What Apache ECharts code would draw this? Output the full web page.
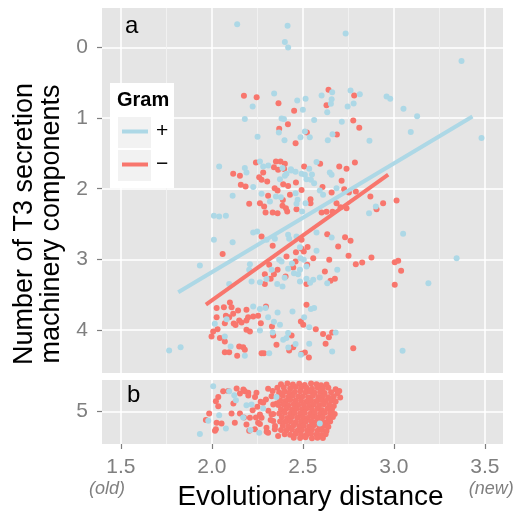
<!DOCTYPE html>
<html><head><meta charset="utf-8">
<script src="https://cdn.jsdelivr.net/npm/echarts@6/dist/echarts.min.js"></script>
<style>html,body{margin:0;padding:0;background:#fff}#c{width:521px;height:513px}</style>
</head><body><div id="c"></div>
<script>
// ---- tick labels ----
const xTicks = [1.5, 2.0, 2.5, 3.0, 3.5];
const xMinorTicks = [1.75, 2.25, 2.75, 3.25];
const xEndLabels = {'1.5': '(old)', '3.5': '(new)'};
const yTicksA = [0, 1, 2, 3, 4];
const yTicksB = [5];
const legendTitle = 'Gram';
const groupNames = ['+', '−'];

// ---- panel a: Gram + (light blue) ----
const gramPosA = [
[2.139,-0.33],[2.416,-0.31],[2.735,-0.2],[2.401,-0.08],[2.419,0.0],[3.372,0.19],
[2.342,0.651],[2.224,0.835],[2.469,0.75],[2.515,0.727],[2.603,0.68],[2.661,0.632],[2.658,0.731],[2.654,0.797],[2.634,0.915],[2.762,0.609],[2.813,0.66],[2.779,0.793],[2.746,0.835],[2.96,0.694],[2.98,0.727],[2.5,0.882],[3.053,0.868],[3.128,0.972],[2.181,1.014],[2.383,1.006],[2.396,1.014],[2.368,1.204],[2.562,1.028],[2.714,1.052],[3.093,1.198],[3.482,1.283],[2.251,1.265],[2.399,1.312],[2.511,1.19],[2.487,1.269],[2.538,1.269],[2.637,1.312],[2.663,1.227],[2.866,1.322],
[2.04,1.685],[2.181,1.708],[2.19,1.77],[2.227,1.977],[2.264,1.615],[2.282,1.685],[2.388,1.708],[2.41,1.789],[2.437,1.742],[2.401,1.817],[2.374,1.864],[2.493,1.789],[2.511,1.803],[2.52,1.864],[2.544,1.874],[2.562,1.921],[2.575,1.623],[2.648,1.77],[2.658,1.803],[2.685,1.992],[2.593,2.025],[2.611,2.086],[2.114,2.1],[2.273,2.072],[2.319,2.181],[2.352,2.11],[2.379,2.119],[2.46,2.063],[2.471,2.157],[2.515,2.204],[2.465,2.214],[2.496,2.323],[2.011,2.384],[2.04,2.394],[2.077,2.384],[2.864,2.346],[2.901,2.252],[2.434,1.723],[2.535,1.718],[2.31,1.67],[2.46,1.76],[2.55,1.8],
[2.227,2.62],[2.249,2.606],[2.575,2.62],[3.051,2.639],[2.011,2.724],[2.114,2.757],[2.301,2.724],[2.346,2.71],[2.419,2.653],[2.425,2.71],[2.465,2.677],[2.658,2.691],[1.934,3.088],[2.575,2.88],[2.487,2.983],[2.505,3.007],[2.37,3.007],[2.383,3.031],[3.345,2.983],[2.209,3.068],[2.205,3.149],[2.328,3.149],[2.419,3.135],[2.451,3.196],[2.474,3.21],[2.218,3.314],[2.264,3.323],[2.359,3.351],[2.388,3.385],[2.484,3.314],[2.52,3.276],[2.557,3.29],[2.593,3.258],[2.689,3.149],[2.634,3.337],[3.19,3.337],[2.095,3.351],[2.484,2.83],[2.484,3.149],[2.44,3.06],[2.52,3.1],[2.30,3.28],[2.54,3.33],[2.40,3.26],
[2.227,3.668],[2.264,3.705],[2.295,3.69],[2.016,3.914],[2.081,3.847],[2.309,3.819],[2.341,3.885],[2.374,3.928],[2.361,3.753],[2.443,3.739],[2.544,3.705],[2.562,3.691],[2.507,3.819],[2.071,4.093],[2.264,4.008],[2.334,4.037],[2.419,4.045],[2.392,4.14],[2.41,4.116],[2.535,3.961],[2.68,4.037],[2.535,4.197],[2.661,4.306],[3.048,4.296],[1.765,4.292],[1.828,4.244],[2.103,4.235],[2.181,4.367],[2.315,4.329],[2.489,4.353],[2.46,4.2],[2.42,4.25]
];

// ---- panel a: Gram − (salmon) ----
const gramNegA = [
[2.176,0.684],[2.246,0.703],[2.366,0.788],[2.641,0.599],[2.63,0.816],[2.782,0.68],[2.452,0.897],[2.418,1.085],[2.37,1.152],[2.777,1.034],[2.81,1.137],[2.46,1.354],[2.522,1.204],[2.687,1.232],
[2.117,1.789],[2.154,1.817],[2.159,1.945],[2.185,1.969],[2.242,1.629],[2.282,1.77],[2.26,1.836],[2.273,1.874],[2.304,1.898],[2.352,1.615],[2.377,1.615],[2.401,1.647],[2.341,1.694],[2.364,1.732],[2.397,1.722],[2.392,1.935],[2.419,1.96],[2.462,1.912],[2.345,1.992],[2.361,2.025],[2.507,1.685],[2.595,1.647],[2.7,1.685],[2.74,1.718],[2.786,1.629],[2.713,1.888],[2.727,2.006],[2.608,1.977],[2.658,2.054],[2.753,2.054],[2.791,2.04],[2.309,2.1],[2.429,2.086],[2.493,2.017],[2.542,2.148],[2.542,2.204],[2.205,2.214],[2.264,2.204],[2.287,2.252],[2.295,2.337],[2.334,2.337],[2.361,2.346],[2.388,2.242],[2.407,2.275],[2.414,2.323],[2.465,2.289],[2.871,2.11],[2.941,2.204],[3.015,2.167],[2.905,2.289],[2.603,2.337],[2.63,2.327],[2.663,2.327],[2.685,2.204],[2.707,2.261],[2.74,2.275],[2.39,2.16],
[2.273,2.677],[2.493,2.724],[2.634,2.643],[2.732,2.686],[2.762,2.738],[2.694,2.818],[2.059,2.926],[2.334,2.809],[2.462,2.898],[2.493,2.851],[2.505,2.889],[2.526,2.827],[2.41,2.96],[2.557,2.983],[2.46,3.031],[2.524,3.078],[2.645,3.007],[2.751,2.95],[2.877,2.974],[2.826,3.045],[2.791,3.068],[3.005,3.04],[3.024,3.021],[3.04,3.163],[2.315,3.078],[2.361,3.149],[2.291,3.21],[2.341,3.21],[2.447,3.116],[2.405,3.244],[2.323,3.276],[2.291,3.351],[2.52,3.351],[2.621,3.173],[2.652,3.305],[2.676,3.276],[3.005,3.361],
[2.026,3.691],[2.066,3.677],[2.099,3.612],[2.108,3.677],[2.026,3.819],[2.077,3.8],[2.095,3.819],[2.117,3.772],[2.144,3.725],[2.19,3.715],[2.199,3.819],[2.227,3.809],[2.254,3.8],[2.297,3.668],[2.15,3.867],[2.163,3.895],[2.071,3.904],[2.269,3.904],[2.52,3.644],[2.489,3.881],[2.502,3.928],[2.007,4.023],[2.031,3.989],[1.998,4.093],[2.044,4.116],[2.071,4.164],[2.19,3.999],[2.209,4.023],[2.337,4.079],[2.438,4.079],[2.355,4.211],[2.447,4.244],[2.425,4.292],[2.571,3.989],[2.611,4.056],[2.643,4.102],[2.661,4.037],[2.625,4.197],[2.777,4.258],[2.071,4.315],[2.095,4.315],[2.15,4.235],[2.172,4.244],[2.181,4.282],[2.139,4.367],[2.273,4.329],[2.286,4.329],[2.493,4.339],[2.511,4.32],[2.533,4.391],[2.19,3.867],[2.12,3.91],[2.13,3.93],[2.33,3.95]
];

// ---- panel b: Gram + ----
const gramPosB = [
[2.007,4.639],[2.095,4.71],[2.123,4.766],[2.132,4.837],[2.19,4.908],[2.218,4.898],[2.282,4.955],[2.355,4.79],[2.04,5.05],[1.98,5.13],[2.172,5.082],[2.077,5.238],[2.212,5.262],[2.26,5.3],[1.934,5.319],[2.593,5.167]
];

// ---- panel b: Gram − ----
const gramNegB = [
[1.967,5.12],[1.985,5.026],[2.017,5.271],[2.022,4.851],[2.022,5.252],[2.026,5.158],[2.035,4.79],[2.035,4.922],[2.053,5.167],[2.062,4.71],[2.09,4.705],[2.108,5.026],[2.118,4.884],[2.126,5.158],[2.136,4.672],[2.154,4.743],[2.154,5.026],[2.173,4.686],[2.176,5.082],[2.2,4.733],[2.205,5.271],[2.224,4.979],[2.237,4.79],[2.242,5.082],[2.25,4.931],[2.264,5.177],[2.268,4.861],[2.297,4.827],[2.301,5.285],[2.31,4.988],[2.323,5.12],[2.334,4.705],[2.337,5.035],[2.347,5.205],[2.356,4.884],
[2.181,4.71],[2.2,4.771],[2.245,4.733],[2.209,5.087],[2.19,5.182],[2.236,5.252],[2.3,5.229],[2.309,5.3],[2.282,4.875],[2.309,4.676],[2.328,4.78],[2.337,4.898],[2.328,5.04],[2.337,5.134],[2.346,5.252],[2.364,5.347],[2.264,5.04],[2.254,5.158],[2.273,5.087],
[2.38,4.61],[2.415,4.6],[2.445,4.615],[2.48,4.605],[2.51,4.62],[2.545,4.6],[2.575,4.61],[2.6,4.625],[2.63,4.615],
[2.36,4.66],[2.395,4.655],[2.43,4.67],[2.46,4.65],[2.49,4.665],[2.52,4.66],[2.55,4.675],[2.58,4.655],[2.61,4.67],[2.64,4.66],[2.68,4.68],[2.7,4.705],
[2.37,4.725],[2.4,4.715],[2.425,4.73],[2.455,4.72],[2.485,4.71],[2.515,4.725],[2.54,4.715],[2.565,4.73],[2.595,4.72],[2.62,4.735],[2.655,4.725],[2.69,4.74],
[2.36,4.785],[2.39,4.775],[2.42,4.79],[2.445,4.775],[2.475,4.785],[2.5,4.78],[2.53,4.795],[2.555,4.775],[2.585,4.79],[2.61,4.78],[2.64,4.795],[2.67,4.785],[2.705,4.8],
[2.375,4.84],[2.405,4.85],[2.43,4.835],[2.46,4.845],[2.49,4.84],[2.52,4.855],[2.545,4.84],[2.575,4.85],[2.6,4.835],[2.625,4.85],[2.655,4.84],[2.68,4.855],
[2.365,4.905],[2.395,4.9],[2.42,4.91],[2.45,4.895],[2.475,4.905],[2.505,4.9],[2.535,4.915],[2.56,4.9],[2.59,4.91],[2.615,4.895],[2.645,4.905],[2.67,4.92],
[2.38,4.965],[2.41,4.955],[2.44,4.97],[2.465,4.96],[2.495,4.965],[2.52,4.955],[2.55,4.97],[2.58,4.96],[2.605,4.975],[2.635,4.96],[2.66,4.97],
[2.37,5.025],[2.4,5.015],[2.43,5.03],[2.455,5.02],[2.485,5.025],[2.51,5.015],[2.54,5.03],[2.565,5.02],[2.595,5.03],[2.62,5.015],[2.65,5.025],[2.675,5.035],
[2.385,5.08],[2.415,5.09],[2.44,5.075],[2.47,5.085],[2.5,5.08],[2.525,5.09],[2.555,5.075],[2.58,5.085],[2.61,5.08],[2.64,5.09],[2.665,5.075],
[2.375,5.14],[2.405,5.145],[2.43,5.135],[2.46,5.15],[2.49,5.14],[2.515,5.145],[2.545,5.135],[2.57,5.15],[2.6,5.14],[2.625,5.155],[2.65,5.14],
[2.39,5.2],[2.42,5.21],[2.45,5.195],[2.48,5.205],[2.505,5.2],[2.535,5.21],[2.56,5.195],[2.59,5.205],[2.615,5.2],[2.64,5.215],
[2.38,5.26],[2.41,5.265],[2.44,5.255],[2.47,5.27],[2.495,5.26],[2.525,5.265],[2.55,5.255],[2.58,5.27],[2.605,5.26],[2.63,5.275],
[2.4,5.32],[2.43,5.33],[2.46,5.315],[2.49,5.325],[2.52,5.33],[2.545,5.315],[2.575,5.325],[2.6,5.335],[2.625,5.32],
[2.45,5.37],[2.485,5.375],[2.515,5.365],[2.55,5.38],[2.58,5.37],[2.61,5.375]
];

// ---- linear fits (end points) ----
const fitPos = [[1.815,3.465],[3.432,0.976]];
const fitNeg = [[1.967,3.64],[2.969,1.80]];

const FONT = '"Liberation Sans", Arial, Helvetica, sans-serif';
const GREY = '#7F7F7F';
const BLUE = '#ADD8E6', RED = '#F8766D';
const X_MIN = 1.396, X_MAX = 3.6;

const majorLine = {show: true, lineStyle: {color: '#FFFFFF', width: 1.5}};
const minorLine = {show: true, lineStyle: {color: '#F2F2F2', width: 0.9}};

function hiddenX(grid, vals, split, pos) {
  return {gridIndex: grid, type: 'value', position: pos, min: X_MIN, max: X_MAX,
    axisLine: {show: false}, axisTick: {show: false, customValues: vals},
    axisLabel: {show: false, customValues: vals}, splitLine: split};
}

const chart = echarts.init(document.getElementById('c'), null, {renderer: 'canvas'});
chart.setOption({
  animation: false,
  backgroundColor: '#FFFFFF',
  grid: [
    {left: 102, top: 8, width: 401, height: 365, show: true, backgroundColor: '#E5E5E5', borderWidth: 0, outerBoundsMode: 'none'},
    {left: 102, top: 380, width: 401, height: 64, show: true, backgroundColor: '#E5E5E5', borderWidth: 0, outerBoundsMode: 'none'}
  ],
  xAxis: [
    hiddenX(0, xMinorTicks, minorLine, 'top'),
    hiddenX(0, xTicks, majorLine, 'bottom'),
    hiddenX(1, xMinorTicks, minorLine, 'top'),
    {gridIndex: 1, type: 'value', position: 'bottom', min: X_MIN, max: X_MAX,
      axisLine: {show: false},
      axisTick: {show: true, length: 5, lineStyle: {color: GREY, width: 1.2}, customValues: xTicks},
      splitLine: majorLine,
      axisLabel: {customValues: xTicks, margin: 12, color: GREY, fontFamily: FONT, fontSize: 21,
        formatter: function (v) {
          const t = v.toFixed(1);
          if (xEndLabels[t]) return '{n|' + t + '}\n{' + (v < 2 ? 'o' : 'w') + '|' + xEndLabels[t] + '}';
          return '{n|' + t + '}';
        },
        rich: {
          n: {fontSize: 21, color: GREY, fontFamily: FONT, lineHeight: 22},
          o: {fontSize: 18, fontStyle: 'italic', color: GREY, fontFamily: FONT, lineHeight: 22, padding: [0, 28, 0, 0]},
          w: {fontSize: 18, fontStyle: 'italic', color: GREY, fontFamily: FONT, lineHeight: 22, padding: [0, 0, 0, 13]}
        }},
      name: 'Evolutionary distance', nameLocation: 'middle', nameGap: 39, nameMoveOverlap: false,
      nameTextStyle: {fontSize: 28, color: '#000', fontFamily: FONT, padding: [0, 0, 0, 16]}
    }
  ],
  yAxis: [
    {gridIndex: 0, type: 'value', inverse: true, min: -0.56, max: 4.61,
      axisLine: {show: false},
      axisTick: {show: true, length: 5, lineStyle: {color: GREY, width: 1.2}, customValues: yTicksA},
      axisLabel: {customValues: yTicksA, margin: 14, color: GREY, fontFamily: FONT, fontSize: 21},
      splitLine: majorLine},
    {gridIndex: 1, type: 'value', inverse: true, min: 4.55, max: 5.46,
      axisLine: {show: false},
      axisTick: {show: true, length: 5, lineStyle: {color: GREY, width: 1.2}, customValues: yTicksB},
      axisLabel: {customValues: yTicksB, margin: 14, color: GREY, fontFamily: FONT, fontSize: 21},
      splitLine: majorLine}
  ],
  legend: {
    orient: 'vertical', left: 122, top: 121, padding: 0, itemWidth: 26, itemHeight: 4, itemGap: 12,
    selectedMode: false, z: 10,
    data: [{name: groupNames[0], icon: 'rect'}, {name: groupNames[1], icon: 'rect'}],
    textStyle: {fontSize: 21, color: '#000', fontFamily: FONT, lineHeight: 21, padding: [0, 0, 0, 3]}
  },
  graphic: [
    {type: 'rect', z: 5, shape: {x: 110, y: 83, width: 64, height: 105}, style: {fill: '#FFFFFF'}},
    {type: 'rect', z: 6, shape: {x: 118, y: 117, width: 33, height: 31}, style: {fill: '#F2F2F2'}},
    {type: 'rect', z: 6, shape: {x: 118, y: 150, width: 33, height: 31}, style: {fill: '#F2F2F2'}},
    {type: 'text', z: 6, x: 117, y: 100, style: {text: legendTitle, font: 'bold 20px ' + FONT, fill: '#000', textAlign: 'left', textVerticalAlign: 'middle'}},
    {type: 'text', z: 6, x: 125, y: 26, style: {text: 'a', font: '24px ' + FONT, fill: '#000', textAlign: 'left', textVerticalAlign: 'middle'}},
    {type: 'text', z: 6, x: 127, y: 395, style: {text: 'b', font: '24px ' + FONT, fill: '#000', textAlign: 'left', textVerticalAlign: 'middle'}},
    {type: 'text', z: 6, x: 38, y: 224, rotation: Math.PI / 2,
      style: {text: 'Number of T3 secretion\nmachinery components', font: '27px ' + FONT, lineHeight: 27, fill: '#000', textAlign: 'center', textVerticalAlign: 'middle'}}
  ],
  series: [
    {type: 'scatter', name: groupNames[1], xAxisIndex: 1, yAxisIndex: 0, data: gramNegA, symbolSize: 6, itemStyle: {color: RED, opacity: 1}, silent: true},
    {type: 'scatter', name: groupNames[0], xAxisIndex: 1, yAxisIndex: 0, data: gramPosA, symbolSize: 6, itemStyle: {color: BLUE, opacity: 1}, silent: true},
    {type: 'scatter', name: groupNames[1], xAxisIndex: 3, yAxisIndex: 1, data: gramNegB, symbolSize: 6, itemStyle: {color: RED, opacity: 1}, silent: true},
    {type: 'scatter', name: groupNames[0], xAxisIndex: 3, yAxisIndex: 1, data: gramPosB, symbolSize: 6, itemStyle: {color: BLUE, opacity: 1}, silent: true},
    {type: 'line', name: groupNames[0], xAxisIndex: 1, yAxisIndex: 0, data: fitPos, symbol: 'none', showSymbol: false, lineStyle: {color: BLUE, width: 4}, itemStyle: {color: BLUE}, z: 3, silent: true},
    {type: 'line', name: groupNames[1], xAxisIndex: 1, yAxisIndex: 0, data: fitNeg, symbol: 'none', showSymbol: false, lineStyle: {color: RED, width: 4}, itemStyle: {color: RED}, z: 3, silent: true}
  ]
});
</script></body></html>
